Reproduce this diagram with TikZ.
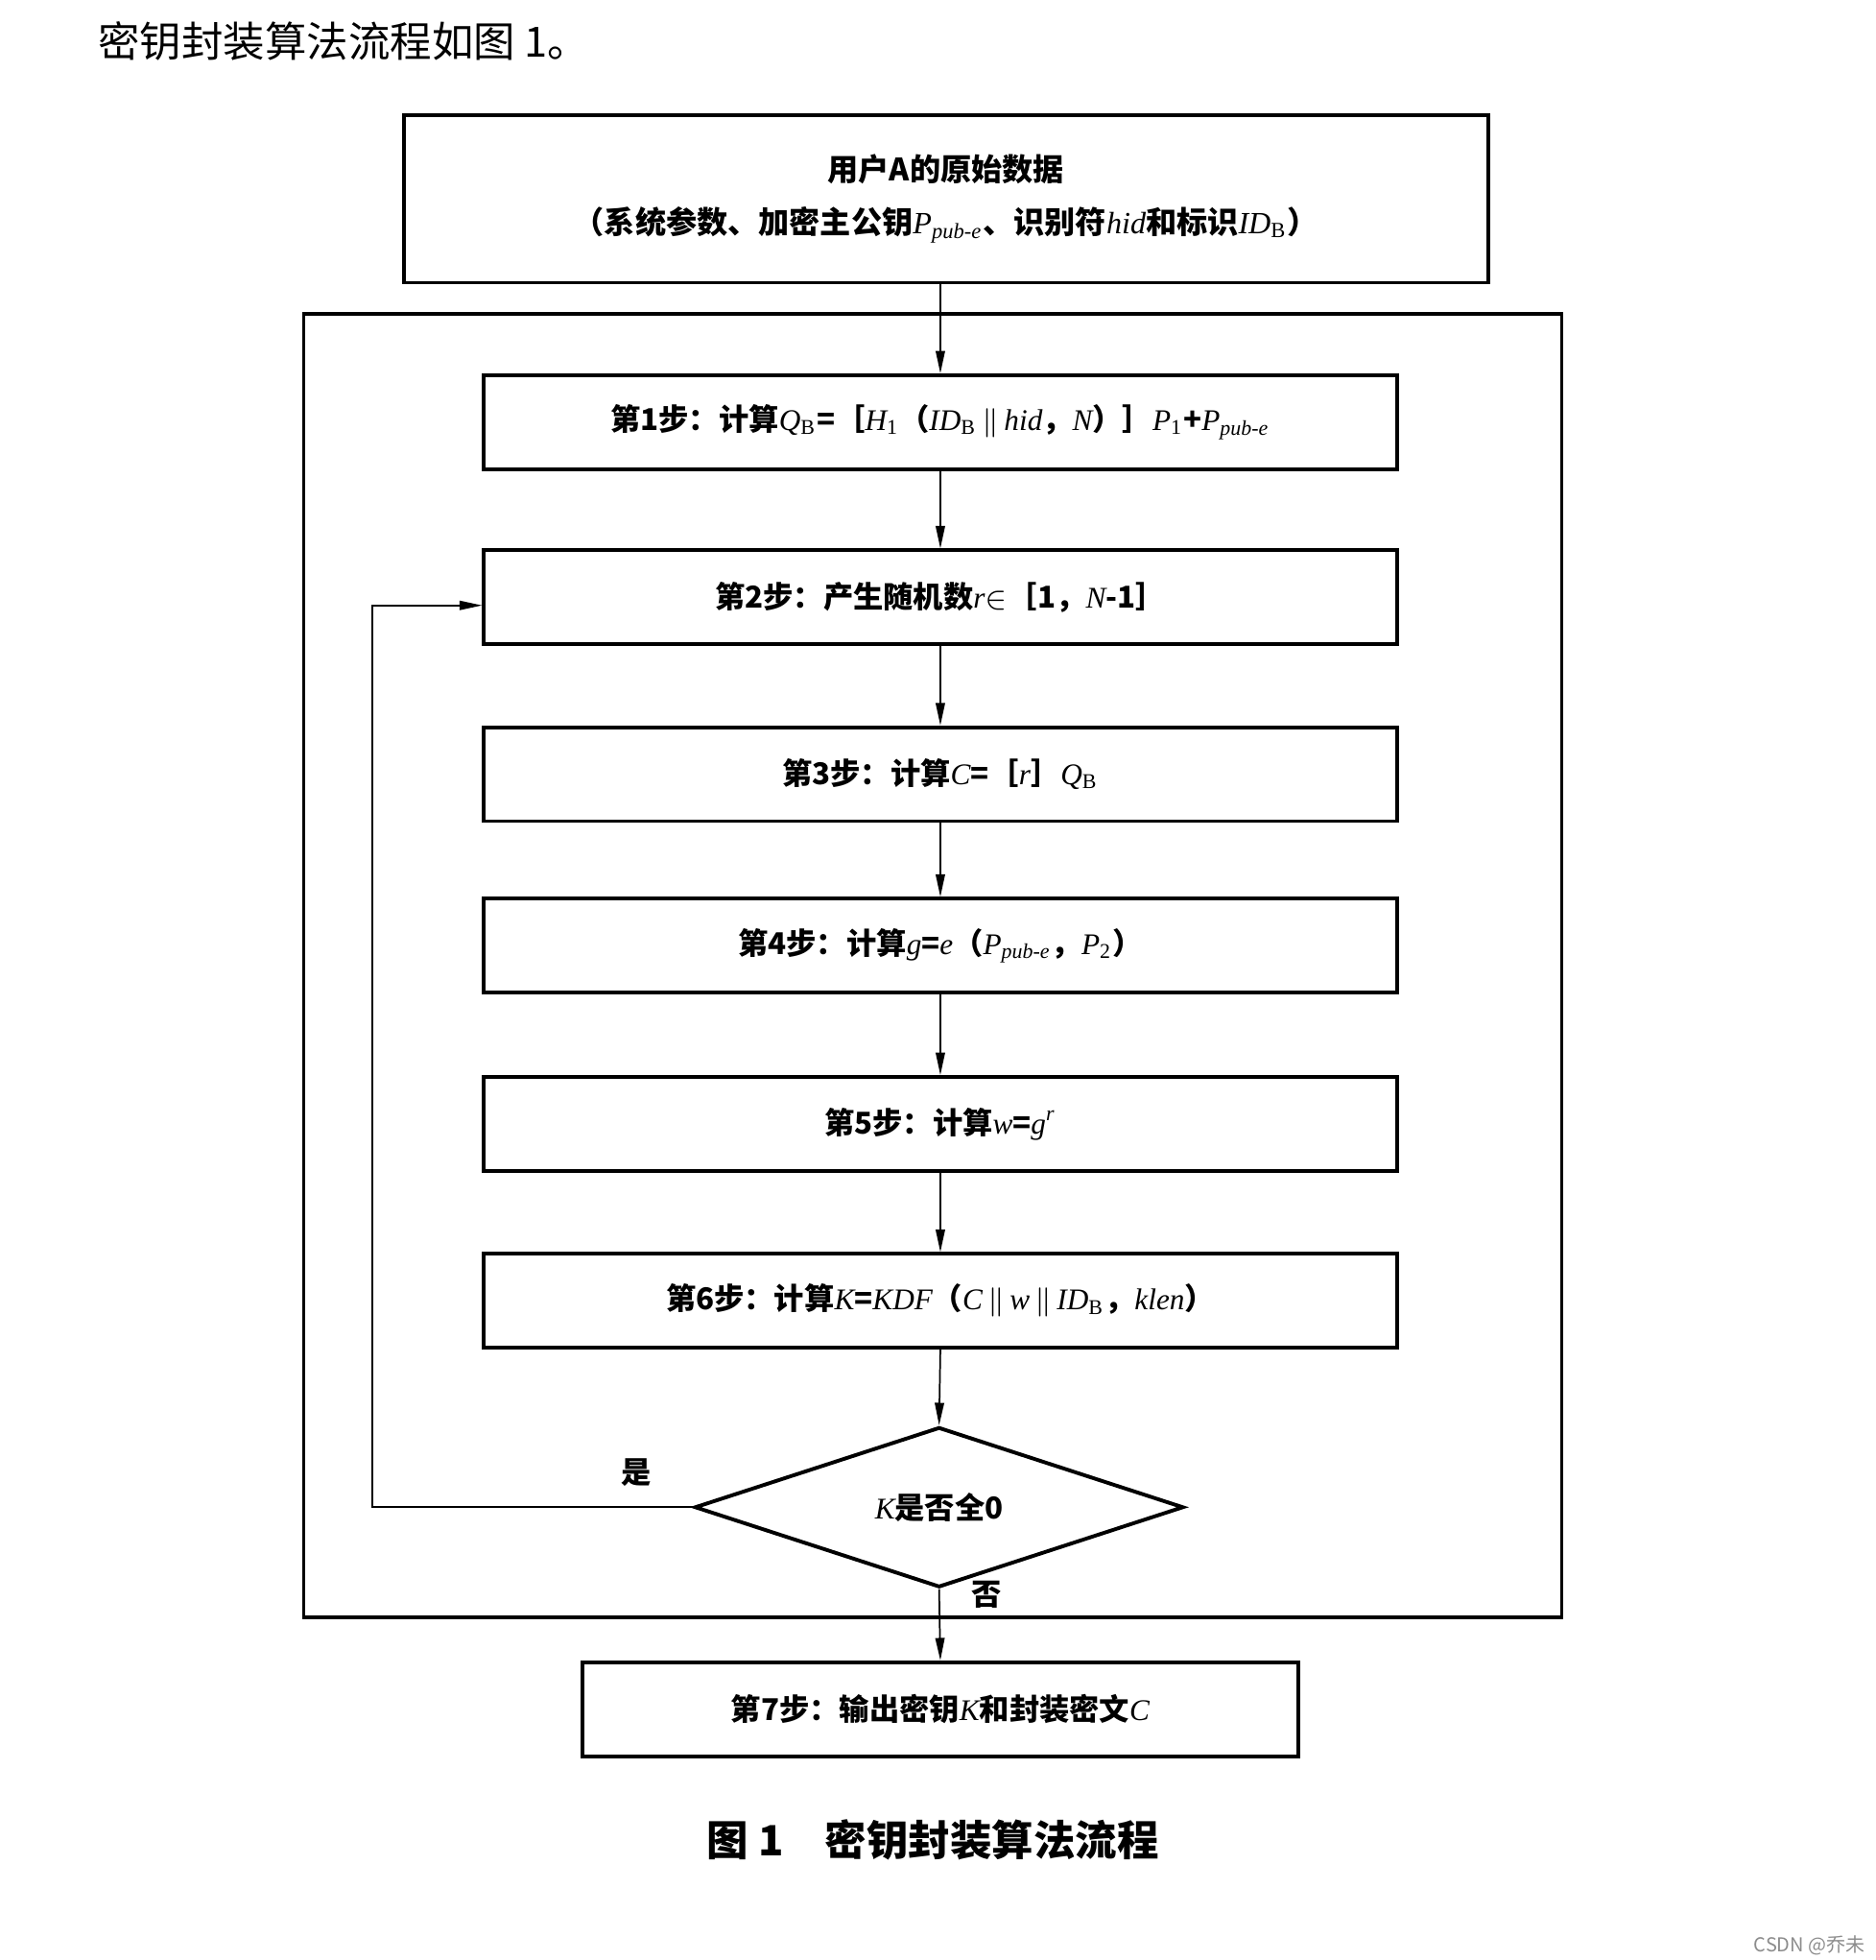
\documentclass[tikz,border=0pt]{standalone}
\usepackage{fontspec}
\setmainfont{Noto Sans CJK SC}
\newfontfamily\lat{Liberation Serif}
\usetikzlibrary{arrows.meta,shapes.geometric}
\newcommand{\mv}[1]{{\lat\mdseries\itshape #1}}
\newcommand{\sbs}[1]{\textsubscript{\lat\mdseries #1}}
\newcommand{\sbi}[1]{\textsubscript{\lat\mdseries\itshape #1}}

\begin{document}
\begin{tikzpicture}[x=0.3pt,y=-0.3pt,
  stepbox/.style={draw,line width=0.9pt,minimum width=219pt,minimum height=22.5pt,
    inner sep=0pt,font=\fontsize{7.2}{8.6}\selectfont\bfseries},
  arr/.style={-{Triangle[length=5.4pt,width=2.2pt]},line width=0.4pt}]
  \useasboundingbox (0,0) rectangle (1500,1567);
  \node[anchor=west,inner sep=0pt,font=\fontsize{10}{12}\selectfont] (intro) at (78,33)
    {密钥封装算法流程如图 1。};
  % donnees de depart
  \node[stepbox,minimum width=260.1pt,minimum height=40.2pt,align=center,
    font=\fontsize{7.4}{12.6}\selectfont\bfseries] (data) at (756.5,159)
    {用户A的原始数据\\（系统参数、加密主公钥\mv{P}\sbi{pub-e}、识别符\mv{hid}和标识\mv{ID}\sbs{B}）};
  \draw[line width=0.8pt] (243,251) rectangle (1249,1293); % cadre
  \node[stepbox] (s1) at (752,337.5)
    {第1步：计算\mv{Q}\sbs{B}=［\mv{H}\sbs{1}（\mv{ID}\sbs{B}\,$\|$\,\mv{hid}，\mv{N}）］\mv{P}\sbs{1}+\mv{P}\sbi{pub-e}};
  \node[stepbox] (s2) at (752,477.5) {第2步：产生随机数\mv{r}$\in$［1，\mv{N}-1］};
  \node[stepbox] (s3) at (752,619) {第3步：计算\mv{C}=［\mv{r}］\mv{Q}\sbs{B}};
  \node[stepbox] (s4) at (752,756) {第4步：计算\mv{g}=\mv{e}（\mv{P}\sbi{pub-e}，\mv{P}\sbs{2}）};
  \node[stepbox] (s5) at (752,898.5) {第5步：计算\mv{w}=\mv{g}\textsuperscript{\mv{r}}};
  \node[stepbox] (s6) at (752,1040)
    {第6步：计算\mv{K}=\mv{KDF}（\mv{C}\,$\|$\,\mv{w}\,$\|$\,\mv{ID}\sbs{B}，\mv{klen}）};
  \node[draw,diamond,aspect=3.05,line width=0.9pt,minimum width=117.3pt,minimum height=38.4pt,
    inner sep=0pt,font=\fontsize{7.2}{8.6}\selectfont\bfseries] (test) at (751,1205)
    {\mv{K}是否全0};
  \node[stepbox,minimum width=171.6pt] (s7) at (752,1366.5)
    {第7步：输出密钥\mv{K}和封装密文\mv{C}};
  % fleches
  \draw[arr] (s1.north |- data.south) -- (s1.north);
  \foreach \a/\b in {s1/s2,s2/s3,s3/s4,s4/s5,s5/s6,s6/test,test/s7}
    \draw[arr] (\a.south) -- (\b.north);
  \coordinate (loop) at (298,484);
  \draw[arr] (test.west) -| (loop) -- (loop -| s2.west); % retour
  \node[font=\fontsize{7.2}{8.6}\selectfont\bfseries] (yes) at (509,1177) {是};
  \node[font=\fontsize{7.2}{8.6}\selectfont\bfseries] (no) at (789,1275) {否};
  % legende
  \node[font=\fontsize{10}{12}\selectfont\bfseries] (caption) at (746,1471)
    {图 1　密钥封装算法流程};
  \node[font=\fontsize{4.6}{5.5}\selectfont,text=black!45] (mark) at (1447,1555) {CSDN @乔未};
\end{tikzpicture}
\end{document}
